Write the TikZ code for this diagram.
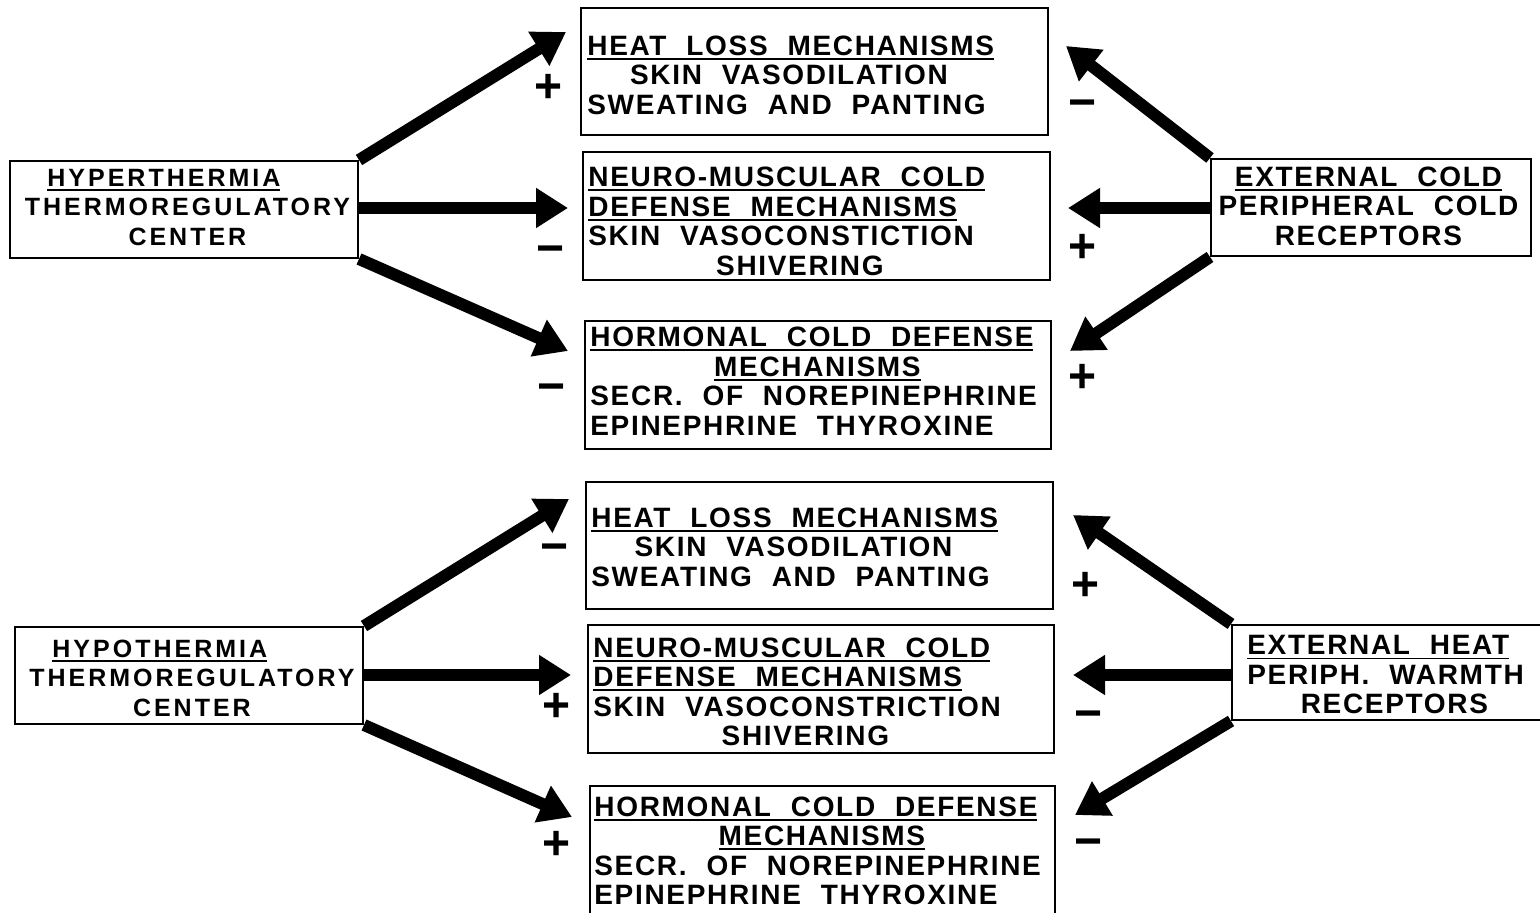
\documentclass[tikz,border=0pt]{standalone}
\usepackage{fontspec}
\setmainfont{Liberation Sans}
\newfontfamily\mechfont{Liberation Sans}[LetterSpace=6,WordSpace=2.1]
\newfontfamily\ctrfont{Liberation Sans}[LetterSpace=12,WordSpace=3]
\newfontfamily\signfont{Liberation Sans}
\usetikzlibrary{arrows.meta,calc}
\newlength\bw
\newcommand\ulx[1]{\setbox0=\hbox{#1}\rlap{\rule[-2.2pt]{\wd0}{0.9pt}}\box0}
\newcommand\LL[1]{\makebox[\bw][l]{#1}}
\newcommand\CC[1]{\makebox[\bw][c]{#1}}
\tikzset{
  box/.style={draw, line width=1pt, inner sep=0pt},
  mtxt/.style={inner sep=0pt, anchor=west, align=left, font=\mechfont\bfseries\fontsize{14pt}{14.75pt}\selectfont},
  ctxt/.style={inner sep=0pt, anchor=west, align=left, font=\ctrfont\bfseries\fontsize{12.5pt}{14.75pt}\selectfont},
  bw/.code={\global\bw=#1\relax},
  sign/.style={inner sep=0pt, font=\signfont\bfseries\fontsize{24pt}{24pt}\selectfont},
  arr/.style={line width=6pt, -{Triangle[length=16pt,width=19pt]}}
}
\begin{document}
\begin{tikzpicture}[x=0.5pt,y=-0.5pt]
\fill[white] (0,0) rectangle (1540,913);
\useasboundingbox (0,0) rectangle (1540,913);
% ---------- top half ----------
\node[box, minimum width=174pt, minimum height=48.5pt] (hyper) at (184,209.5) {};
\node[ctxt, bw=165pt] (hypert) at (22,207.5) {\LL{\hspace*{12.5pt}\ulx{HYPERTHERMIA}}\\\CC{THERMOREGULATORY}\\\CC{CENTER}};
\node[box, minimum width=233.5pt, minimum height=63.5pt] (hl1) at (814.5,71.5) {};
\node[mtxt, bw=201.5pt] (hl1t) at (587,75) {\LL{\ulx{HEAT LOSS MECHANISMS}}\\\CC{SKIN VASODILATION}\\\LL{SWEATING AND PANTING}};
\node[box, minimum width=233.5pt, minimum height=64pt] (nm1) at (816.5,216) {};
\node[mtxt, bw=201.5pt] (nm1t) at (588,221.5) {\LL{\ulx{NEURO-MUSCULAR COLD}}\\\LL{\ulx{DEFENSE MECHANISMS}}\\\LL{SKIN VASOCONSTICTION}\\\CC{\hspace*{10pt}SHIVERING}};
\node[box, minimum width=233pt, minimum height=64pt] (ho1) at (818,385) {};
\node[mtxt, bw=227pt] (ho1t) at (590,381.5) {\LL{\ulx{HORMONAL COLD DEFENSE}}\\\CC{\ulx{MECHANISMS}}\\\LL{SECR. OF NOREPINEPHRINE}\\\LL{EPINEPHRINE THYROXINE}};
\node[box, minimum width=160pt, minimum height=48.5pt] (ec) at (1371,207.5) {};
\node[mtxt, bw=151pt] (ect) at (1217,206) {\CC{\ulx{EXTERNAL COLD}}\\\CC{PERIPHERAL COLD}\\\CC{RECEPTORS}};
% tips
\coordinate (t1) at ($(hl1.north west)+(-14,25)$);
\coordinate (t2) at ($(nm1.west)+(-14,-8)$);
\coordinate (t3) at ($(ho1.north west)+(-16,31)$);
\coordinate (t4) at ($(hl1.north east)+(17,39)$);
\coordinate (t5) at ($(nm1.east)+(17,-8)$);
\coordinate (t6) at ($(ho1.north east)+(18,31)$);
\draw[arr] (hyper.north east) -- (t1);
\draw[arr] (hyper.east |- t2) -- (t2);
\draw[arr] (hyper.south east) -- (t3);
\draw[arr] (ec.north west) -- (t4);
\draw[arr] (ec.west |- t5) -- (t5);
\draw[arr] (ec.south west) -- (t6);
\node[sign] (s1) at (549,88) {+};
\node[sign] (s2) at (551,255) {−};
\node[sign] (s3) at (552,393) {−};
\node[sign] (s4) at (1082,109) {−};
\node[sign] (s5) at (1082,248) {+};
\node[sign] (s6) at (1082,378) {+};
% ---------- bottom half ----------
\node[box, minimum width=174pt, minimum height=48.5pt] (hypo) at (189,675.5) {};
\node[ctxt, bw=165.5pt] (hypot) at (26,678) {\LL{\hspace*{13pt}\ulx{HYPOTHERMIA}}\\\CC{THERMOREGULATORY}\\\CC{CENTER}};
\node[box, minimum width=233.5pt, minimum height=63.5pt] (hl2) at (819.5,545.5) {};
\node[mtxt, bw=202pt] (hl2t) at (591,547) {\LL{\ulx{HEAT LOSS MECHANISMS}}\\\CC{SKIN VASODILATION}\\\LL{SWEATING AND PANTING}};
\node[box, minimum width=233pt, minimum height=64pt] (nm2) at (821,689) {};
\node[mtxt, bw=202pt] (nm2t) at (593,692) {\LL{\ulx{NEURO-MUSCULAR COLD}}\\\LL{\ulx{DEFENSE MECHANISMS}}\\\LL{SKIN VASOCONSTRICTION}\\\CC{\hspace*{10pt}SHIVERING}};
\node[box, minimum width=232.5pt, minimum height=64pt] (ho2) at (822.5,850) {};
\node[mtxt, bw=227.5pt] (ho2t) at (594,851) {\LL{\ulx{HORMONAL COLD DEFENSE}}\\\CC{\ulx{MECHANISMS}}\\\LL{SECR. OF NOREPINEPHRINE}\\\LL{EPINEPHRINE THYROXINE}};
\node[box, minimum width=164pt, minimum height=47.5pt] (eh) at (1396,672.5) {};
\node[mtxt, bw=137pt] (eht) at (1247,675) {\LL{\ulx{EXTERNAL HEAT}}\\\LL{PERIPH. WARMTH}\\\CC{\hspace*{10pt}RECEPTORS}};
\coordinate (u1) at ($(hl2.north west)+(-16,18)$);
\coordinate (u2) at ($(nm2.west)+(-16,-14)$);
\coordinate (u3) at ($(ho2.north west)+(-17,32)$);
\coordinate (u4) at ($(hl2.north east)+(19,34)$);
\coordinate (u5) at ($(nm2.east)+(18,-14)$);
\coordinate (u6) at ($(ho2.north east)+(19,30)$);
\draw[arr] (hypo.north east) -- (u1);
\draw[arr] (hypo.east |- u2) -- (u2);
\draw[arr] (hypo.south east) -- (u3);
\draw[arr] (eh.north west) -- (u4);
\draw[arr] (eh.west |- u5) -- (u5);
\draw[arr] (eh.south west) -- (u6);
\node[sign] (s7) at (555,553) {−};
\node[sign] (s8) at (557,707) {+};
\node[sign] (s9) at (557,845) {+};
\node[sign] (s10) at (1085,586) {+};
\node[sign] (s11) at (1088,720) {−};
\node[sign] (s12) at (1088,848) {−};
\end{tikzpicture}
\end{document}
